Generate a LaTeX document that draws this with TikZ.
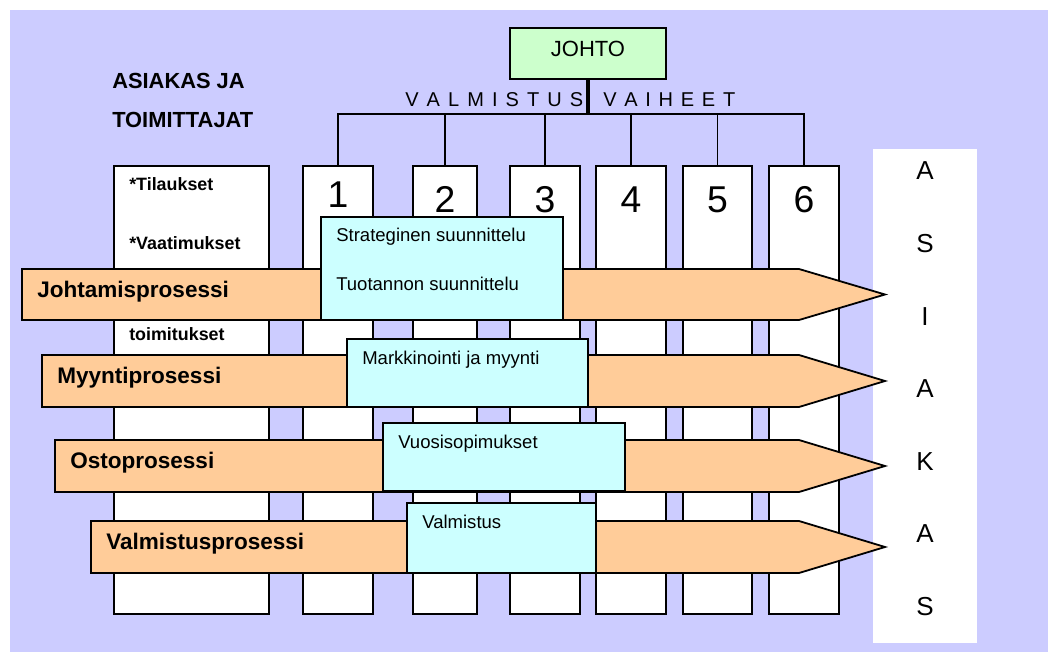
\documentclass[tikz,border=0pt]{standalone}
\usepackage{fontspec}
\setmainfont{Liberation Sans}
\usetikzlibrary{fit}
\definecolor{Lavender}{RGB}{204,204,255}
\definecolor{Peach}{RGB}{255,204,153}
\definecolor{PaleCyan}{RGB}{204,255,255}
\definecolor{PaleGreen}{RGB}{204,255,204}

\begin{document}
\begin{tikzpicture}[x=0.75pt, y=-0.75pt,
    column/.style={draw, fill=white, line width=1.35pt, inner sep=0pt},
    process/.style={draw, fill=Peach, line width=1.35pt, line join=miter},
    task/.style={draw, fill=PaleCyan, line width=1.35pt, inner sep=0pt},
    branch/.style={line width=1pt},
    plabel/.style={anchor=base west, inner sep=0pt, font=\fontsize{16.9}{19}\selectfont\bfseries},
    tlabel/.style={anchor=base west, inner sep=0pt, font=\fontsize{13.9}{16}\selectfont},
    note/.style={anchor=base west, inner sep=0pt, font=\fontsize{13.4}{16}\selectfont\bfseries},
    heading/.style={anchor=base west, inner sep=0pt, font=\fontsize{16.4}{19}\selectfont\bfseries},
    digit/.style={anchor=base, inner sep=0pt, font=\fontsize{28}{30}\selectfont},
    letter/.style={anchor=base, inner sep=0pt, font=\fontsize{19.5}{22}\selectfont}]

    % Background
    \useasboundingbox (0,0) rectangle (1048,652);
    \fill[Lavender] (10,10) rectangle (1048,652);

    % Customer column on the right
    \node[fill=white, inner sep=0pt, fit={(873,149) (977,643)}] (asiakas) {};
    \foreach \ch [count=\i from 0] in {A,S,I,A,K,A,S}
        \node[letter] (a\i) at (925,{180+72.5*\i}) {\ch};

    % Columns
    \node[column, fit={(114,166) (269,614)}] (c0) {};
    \foreach \k/\l/\r in {1/303/373, 2/413/477, 3/510/580, 4/596/666, 5/683/752, 6/769/839}
        \node[column, fit={(\l,166) (\r,614)}] (c\k) {};

    % Management and phases
    \node[draw, fill=PaleGreen, line width=1.35pt, inner sep=0pt, fit={(510,28) (666,79)}] (johto) {};
    \node[anchor=base, inner sep=0pt, font=\fontsize{16.5}{19}\selectfont] (johtotxt) at (588,57) {JOHTO};
    \coordinate (bar) at (588,114);
    \draw[line width=2.3pt] (johto.south) -- (bar);
    \draw[branch] (c1.north) |- (c6.north |- bar) -- (c6.north);
    \foreach \k in {2,...,5}
        \draw[branch] (c\k.north) -- (c\k.north |- bar);
    \node[anchor=base west, inner sep=0pt, font=\fontsize{15}{18}\selectfont] (vaihe1) at (405,107)
        {\makebox[133.5pt]{V\hfill A\hfill L\hfill M\hfill I\hfill S\hfill T\hfill U\hfill S}};
    \node[anchor=base west, inner sep=0pt, font=\fontsize{15}{18}\selectfont] (vaihe2) at (603,107)
        {\makebox[99pt]{V\hfill A\hfill I\hfill H\hfill E\hfill E\hfill T}};

    % Phase numbers
    \coordinate (row1) at (0,208);
    \coordinate (row2) at (0,213);
    \node[digit] (d1) at (c1.north |- row1) {1};
    \foreach \k in {2,...,6}
        \node[digit] (d\k) at (c\k.north |- row2) {\k};

    % Left side texts
    \node[heading] (head1) at (112,89) {ASIAKAS JA};
    \node[heading] (head2) at (112,128) {TOIMITTAJAT};
    \node[note] (note1) at (129,191) {*Tilaukset};
    \node[note] (note2) at (129,249) {*Vaatimukset};
    \node[note] (note3) at (129,340) {toimitukset};

    % Processes
    \foreach \l/\t/\b/\txt [count=\i] in {22/269/320/Johtamisprosessi, 42/355/407/Myyntiprosessi,
                                          55/440/492/Ostoprosessi, 91/521/573/Valmistusprosessi} {
        \draw[process] (\l,\t) -- (799,\t) -- (885,{(\t+\b)/2}) -- (799,\b) -- (\l,\b) -- cycle;
        \node[plabel] (p\i) at (\l+15,{(\t+\b)/2+2.5}) {\txt};
    }

    % Tasks
    \node[task, fit={(321,217) (563,320)}] (t1) {};
    \node[tlabel] (t1a) at (336,242) {Strateginen suunnittelu};
    \node[tlabel] (t1b) at (336,290) {Tuotannon suunnittelu};
    \node[task, fit={(347,339) (588,407)}] (t2) {};
    \node[tlabel] (t2a) at (362,364) {Markkinointi ja myynti};
    \node[task, fit={(383,423) (625,491)}] (t3) {};
    \node[tlabel] (t3a) at (398,448) {Vuosisopimukset};
    \node[task, fit={(407,503) (596,573)}] (t4) {};
    \node[tlabel] (t4a) at (422,528) {Valmistus};
\end{tikzpicture}
\end{document}
